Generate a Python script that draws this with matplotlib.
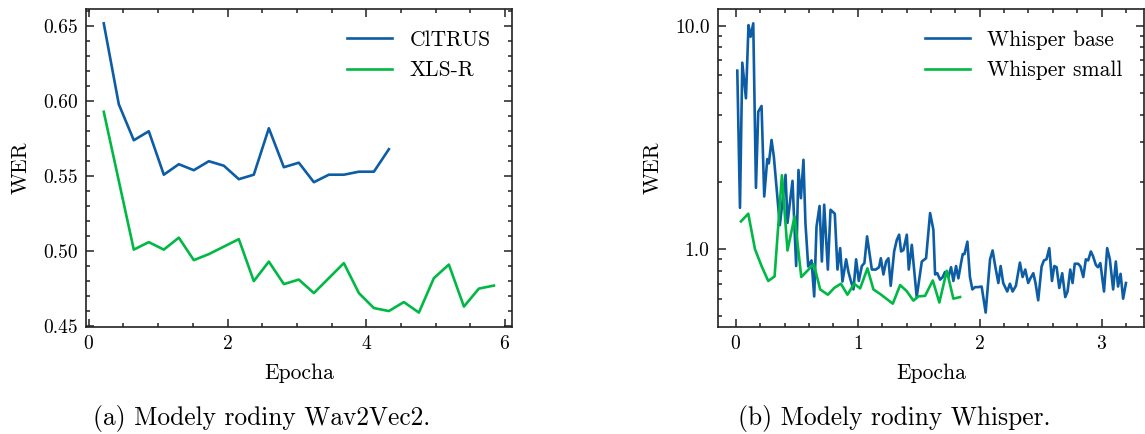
import matplotlib
matplotlib.use('Agg')
import matplotlib.pyplot as plt
from matplotlib.ticker import AutoMinorLocator, LogLocator, FormatStrFormatter, NullFormatter

# Font podobny LaTeXu
plt.rcParams['font.family'] = ['cmr10', 'DejaVu Serif']
plt.rcParams['mathtext.fontset'] = 'cm'
plt.rcParams['axes.formatter.use_mathtext'] = True
plt.rcParams['axes.unicode_minus'] = False

BLUE = '#0C5DA5'
GREEN = '#00B945'

# (a) Wav2Vec2
citrus_x = [0.216, 0.433, 0.649, 0.865, 1.082, 1.298, 1.514, 1.731, 1.947, 2.163,
            2.379, 2.596, 2.812, 3.028, 3.245, 3.461, 3.677, 3.894, 4.110, 4.326]
citrus_wer = [0.652, 0.598, 0.574, 0.580, 0.551, 0.558, 0.554, 0.560, 0.557, 0.548,
              0.551, 0.582, 0.556, 0.559, 0.546, 0.551, 0.551, 0.553, 0.553, 0.568]

xlsr_x = [0.216, 0.649, 0.865, 1.082, 1.298, 1.514, 1.731, 1.947, 2.163, 2.379,
          2.596, 2.812, 3.028, 3.245, 3.461, 3.677, 3.894, 4.110, 4.326, 4.542,
          4.759, 4.975, 5.191, 5.408, 5.624, 5.840]
xlsr_wer = [0.593, 0.501, 0.506, 0.501, 0.509, 0.494, 0.498, 0.503, 0.508, 0.480,
            0.493, 0.478, 0.481, 0.472, 0.482, 0.492, 0.472, 0.462, 0.460, 0.466,
            0.459, 0.482, 0.491, 0.463, 0.475, 0.477]

# (b) Whisper
base_x = [0.011, 0.033, 0.052, 0.082, 0.103, 0.120, 0.142, 0.164, 0.183, 0.210,
          0.232, 0.257, 0.270, 0.292, 0.311, 0.360, 0.407, 0.423, 0.464, 0.494,
          0.513, 0.533, 0.554, 0.570, 0.593, 0.620, 0.642, 0.661, 0.686, 0.705,
          0.724, 0.754, 0.776, 0.811, 0.833, 0.855, 0.874, 0.904, 0.923, 0.943,
          0.964, 0.986, 1.008, 1.033, 1.054, 1.076, 1.115, 1.148, 1.174, 1.189,
          1.210, 1.232, 1.251, 1.270, 1.298, 1.320, 1.339, 1.355, 1.374, 1.402,
          1.418, 1.443, 1.483, 1.525, 1.560, 1.593, 1.620, 1.634, 1.652, 1.675,
          1.697, 1.715, 1.743, 1.765, 1.784, 1.806, 1.825, 1.847, 1.861, 1.875,
          1.899, 1.920, 1.940, 1.962, 1.990, 2.016, 2.049, 2.085, 2.106, 2.128,
          2.153, 2.172, 2.193, 2.226, 2.248, 2.270, 2.297, 2.330, 2.352, 2.374,
          2.398, 2.416, 2.440, 2.458, 2.480, 2.508, 2.527, 2.548, 2.571, 2.593,
          2.612, 2.631, 2.653, 2.677, 2.702, 2.721, 2.743, 2.762, 2.780, 2.808,
          2.827, 2.850, 2.871, 2.890, 2.912, 2.930, 2.953, 2.970, 2.990, 3.020,
          3.046, 3.068, 3.095, 3.117, 3.135, 3.156, 3.177, 3.200]
base_wer = [6.29, 1.53, 6.83, 4.73, 10.06, 8.92, 10.24, 1.88, 4.12, 4.37,
            1.72, 2.53, 2.42, 3.08, 2.59, 1.28, 2.15, 1.31, 2.02, 0.84,
            2.26, 1.69, 2.51, 1.31, 0.836, 0.89, 0.614, 1.26, 1.56, 0.88,
            1.58, 0.81, 1.50, 1.44, 0.81, 1.01, 0.716, 0.90, 0.79, 0.72,
            0.66, 0.90, 0.72, 0.84, 0.866, 1.14, 0.81, 0.81, 0.83, 0.91,
            0.77, 0.88, 0.91, 0.685, 0.976, 1.10, 1.16, 0.976, 0.99, 1.16,
            0.81, 1.045, 0.61, 0.88, 0.91, 1.45, 1.22, 0.77, 0.78, 0.73,
            0.75, 0.79, 0.75, 0.83, 0.72, 0.84, 0.74, 0.866, 0.95, 0.95,
            1.08, 0.75, 0.66, 0.676, 0.676, 0.68, 0.52, 0.90, 0.986, 0.836,
            0.705, 0.84, 0.705, 0.646, 0.70, 0.646, 0.685, 0.87, 0.75, 0.81,
            0.705, 0.74, 0.78, 0.705, 0.59, 0.836, 0.89, 0.90, 1.01, 0.72,
            0.84, 0.83, 0.67, 0.78, 0.61, 0.646, 0.81, 0.705, 0.86, 0.86,
            0.836, 0.75, 0.90, 0.89, 0.976, 0.93, 0.85, 0.83, 0.866, 0.646,
            1.01, 0.90, 0.66, 0.88, 0.68, 0.775, 0.60, 0.705]

small_x = [0.041, 0.101, 0.156, 0.210, 0.265, 0.317, 0.377, 0.423, 0.481, 0.536,
           0.639, 0.691, 0.754, 0.806, 0.861, 0.915, 0.970, 1.019, 1.079, 1.128,
           1.183, 1.287, 1.347, 1.400, 1.456, 1.497, 1.552, 1.615, 1.669, 1.730,
           1.784, 1.839]
small_wer = [1.33, 1.44, 1.00, 0.84, 0.72, 0.755, 2.14, 0.986, 1.40, 0.75,
             0.857, 0.66, 0.625, 0.67, 0.70, 0.625, 0.70, 0.667, 0.82, 0.66,
             0.63, 0.57, 0.69, 0.65, 0.588, 0.614, 0.618, 0.724, 0.577, 0.80,
             0.60, 0.61]


def styluj(ax):
    ax.tick_params(which='both', direction='in', top=True, right=True,
                   labelsize=14, width=1.1, color='#222222', pad=6)
    ax.tick_params(which='major', length=6)
    ax.tick_params(which='minor', length=3)
    for s in ax.spines.values():
        s.set_linewidth(1.2)
        s.set_color('#222222')


fig = plt.figure(figsize=(11.45, 4.34), dpi=100)
ax1 = fig.add_axes([0.0751, 0.2465, 0.372, 0.733])
ax2 = fig.add_axes([0.627, 0.2465, 0.372, 0.733])

# levy graf
ax1.plot(citrus_x, citrus_wer, color=BLUE, lw=1.9, label='ClTRUS')
ax1.plot(xlsr_x, xlsr_wer, color=GREEN, lw=1.9, label='XLS-R')
ax1.set_xlim(-0.04, 6.1)
ax1.set_xticks([0, 2, 4, 6])
ax1.set_yticks([0.45, 0.50, 0.55, 0.60, 0.65])
ax1.yaxis.set_major_formatter(FormatStrFormatter('%.2f'))
ax1.xaxis.set_minor_locator(AutoMinorLocator(4))
ax1.yaxis.set_minor_locator(AutoMinorLocator(5))
ax1.set_xlabel('Epocha', fontsize=15.5, labelpad=7)
ax1.set_ylabel('WER', fontsize=15.5, labelpad=9)
ax1.legend(frameon=False, fontsize=15.5, loc='upper right', handlelength=2.1,
           borderaxespad=0.6)
styluj(ax1)

# pravy graf
ax2.plot(base_x, base_wer, color=BLUE, lw=1.9, label='Whisper base')
ax2.plot(small_x, small_wer, color=GREEN, lw=1.9, label='Whisper small')
ax2.set_yscale('log')
ax2.set_xlim(-0.148, 3.347)
ax2.set_xticks([0, 1, 2, 3])
ax2.xaxis.set_minor_locator(AutoMinorLocator(5))
ax2.yaxis.set_major_locator(LogLocator(base=10))
ax2.yaxis.set_minor_locator(LogLocator(base=10, subs=range(2, 10)))
ax2.yaxis.set_major_formatter(FormatStrFormatter('%.1f'))
ax2.yaxis.set_minor_formatter(NullFormatter())
ax2.set_xlabel('Epocha', fontsize=15.5, labelpad=7)
ax2.set_ylabel('WER', fontsize=15.5, labelpad=9)
ax2.legend(frameon=False, fontsize=15.5, loc='upper right', handlelength=2.1,
           borderaxespad=0.6)
styluj(ax2)

fig.text(262 / 1145, 1 - 418 / 434, '(a) Modely rodiny Wav2Vec2.', fontsize=18.3,
         ha='center', va='center')
fig.text(894 / 1145, 1 - 418 / 434, '(b) Modely rodiny Whisper.', fontsize=18.3,
         ha='center', va='center')

fig.savefig('out.png', dpi=100)
